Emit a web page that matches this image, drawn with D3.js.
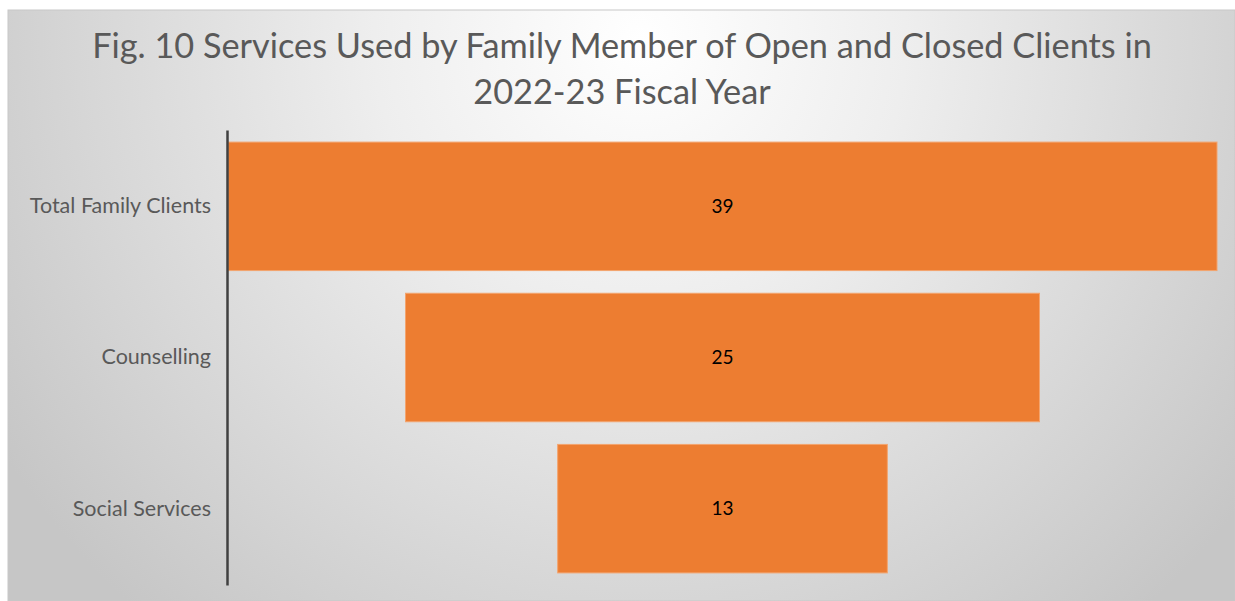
<!DOCTYPE html>
<html>
<head>
<meta charset="utf-8">
<script src="https://cdn.jsdelivr.net/npm/d3@7"></script>
<style>
  html, body { margin: 0; padding: 0; background: #ffffff; }
  svg { display: block; }
</style>
</head>
<body>
<svg id="chart" width="1235" height="601"></svg>
<script>
// Funnel data: stages top to bottom
const categories = ["Total Family Clients", "Counselling", "Social Services"];
const values = [39, 25, 13];
const titleLines = [
  "Fig. 10 Services Used by Family Member of Open and Closed Clients in",
  "2022-23 Fiscal Year"
];

const W = 1235, H = 601;
const svg = d3.select("#chart");
const font = "Lato, 'Open Sans', sans-serif";

// Chart area with soft radial fill
const defs = svg.append("defs");
const grad = defs.append("radialGradient")
  .attr("id", "bgGrad")
  .attr("gradientUnits", "userSpaceOnUse")
  .attr("cx", 640).attr("cy", 40).attr("r", 760);
grad.append("stop").attr("offset", "0%").attr("stop-color", "#ffffff");
grad.append("stop").attr("offset", "35%").attr("stop-color", "#eeeeee");
grad.append("stop").attr("offset", "100%").attr("stop-color", "#c6c6c6");

svg.append("rect")
  .attr("x", 8).attr("y", 10)
  .attr("width", W - 8).attr("height", H - 10)
  .attr("fill", "url(#bgGrad)")
  .attr("stroke", "#c8c8c8").attr("stroke-width", 1);

// Plot area
const plot = { left: 228, right: 1217, top: 130, bottom: 585 };
const maxV = d3.max(values);

// Symmetric x scale so each bar is centred on the funnel axis
const x = d3.scaleLinear()
  .domain([-maxV / 2, maxV / 2])
  .range([plot.left, plot.right]);

const y = d3.scaleBand()
  .domain(categories)
  .range([plot.top, plot.bottom])
  .paddingInner(0.15)
  .paddingOuter(0.08);

const data = categories.map((c, i) => ({ cat: c, val: values[i] }));

// Bars
svg.append("g").selectAll("rect")
  .data(data)
  .join("rect")
  .attr("x", d => x(-d.val / 2))
  .attr("y", d => y(d.cat))
  .attr("width", d => x(d.val / 2) - x(-d.val / 2))
  .attr("height", y.bandwidth())
  .attr("fill", "#ED7D31")
  .attr("stroke", "#f3a46e")
  .attr("stroke-width", 1);

// Value labels inside bars
svg.append("g").selectAll("text")
  .data(data)
  .join("text")
  .attr("x", d => x(0))
  .attr("y", d => y(d.cat) + y.bandwidth() / 2)
  .attr("dy", "0.35em")
  .attr("text-anchor", "middle")
  .attr("font-family", font)
  .attr("font-size", 19)
  .attr("fill", "#000000")
  .text(d => d.val);

// Category axis
const yAxis = d3.axisLeft(y).tickSize(0).tickPadding(16);
const gAxis = svg.append("g")
  .attr("transform", `translate(${plot.left - 1},0)`)
  .call(yAxis);
gAxis.select(".domain")
  .attr("stroke", "#404040")
  .attr("stroke-width", 2.5);
gAxis.selectAll("text")
  .attr("font-family", font)
  .attr("font-size", 21.5)
  .attr("fill", "#595959");

// Title
svg.append("g").selectAll("text")
  .data(titleLines)
  .join("text")
  .attr("x", 622)
  .attr("y", (d, i) => 58 + i * 46)
  .attr("text-anchor", "middle")
  .attr("font-family", font)
  .attr("font-size", 34.3)
  .attr("fill", "#595959")
  .text(d => d);
</script>
</body>
</html>
